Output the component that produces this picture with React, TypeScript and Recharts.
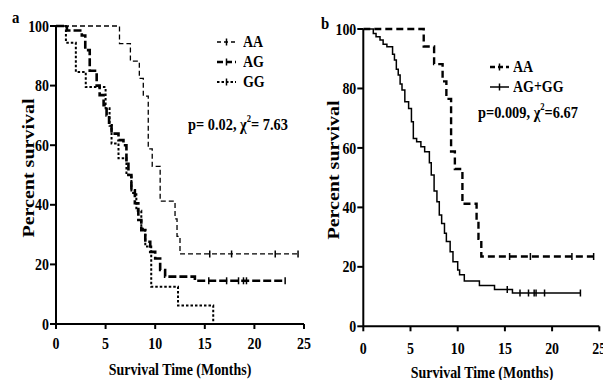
import { LineChart, Line, XAxis, YAxis } from 'recharts';

const FONT = '"Liberation Serif", "Times New Roman", serif';
const SQUEEZE = 0.87; // the original figure is a little narrowed horizontally

// axis ticks
const xTicks = [0, 5, 10, 15, 20, 25];
const yTicks = [0, 20, 40, 60, 80, 100];

// AA genotype (same group in both panels)
const aaTime = [0, 6.4, 7.5, 8.4, 8.8, 9.3, 9.7, 10.5, 12.0, 12.2, 12.5];
const aaSurv = [100, 94.1, 88.2, 82.4, 76.5, 58.8, 52.9, 41.2, 35.3, 29.4, 23.5];
const aaCensor = [15.5, 17.7, 22.1, 24.4];

// AG genotype
const agTime = [0, 1.1, 2.6, 2.95, 3.4, 4.1, 4.4, 4.8, 5.1, 5.35, 5.6, 6.3, 6.8, 7.1, 7.3, 7.6, 7.95, 8.3, 8.6, 9.0, 9.5, 10.0, 10.5, 11.0, 14.0];
const agSurv = [100, 98.5, 96.8, 91.9, 85, 80, 76.8, 73.4, 70, 66.7, 63.9, 61.7, 60, 54.4, 50, 44.9, 40.5, 34.9, 31.5, 27.6, 24.2, 22, 18.1, 15.9, 14.5];
const agCensor = [15.4, 17.2, 18.4, 18.9, 19.2, 23.1];

// GG genotype
const ggTime = [0, 1.0, 2.0, 3.0, 5.0, 5.4, 5.6, 6.3, 7.1, 7.6, 8.1, 8.6, 9.0, 9.6, 12.3, 15.85];
const ggSurv = [100, 94.4, 84.6, 79.5, 72.4, 66.5, 60.6, 55.6, 50, 44, 38, 32, 26, 12.5, 6.2, 0];
const ggCensor: number[] = [];

// AG + GG pooled (panel b)
const poolTime = [0, 1.06, 1.35, 1.77, 2.1, 2.5, 3.1, 3.3, 3.5, 3.7, 3.9, 4.1, 4.4, 4.8, 5.1, 5.3, 5.65, 6.1, 6.5, 7.0, 7.2, 7.5, 7.8, 8.05, 8.3, 8.6, 8.8, 9.2, 9.5, 10.0, 10.2, 10.7, 12.3, 13.9, 15.8];
const poolSurv = [100, 98.5, 97.4, 96.3, 94.9, 94.0, 91.5, 89.6, 86.5, 84.5, 81.5, 79.5, 75.5, 73.3, 68.8, 63.2, 62.1, 60.4, 58.7, 55, 50.9, 45.5, 41.9, 37.4, 34.6, 31.3, 28.5, 25.1, 21.7, 18.9, 17.3, 15.2, 13.7, 12.4, 11.2];
const poolCensor = [15.25, 16.6, 17.5, 18.1, 18.3, 19.2, 23.0];

type Pt = { t: number; s: number; c?: boolean };

// merge event steps with censor marks (censored points sit on the current level)
function buildCurve(times: number[], surv: number[], censor: number[]): Pt[] {
  const pts: Pt[] = times.map((t, i) => ({ t, s: surv[i] }));
  censor.forEach((t) => {
    let s = surv[0];
    times.forEach((tt, i) => {
      if (tt <= t) s = surv[i];
    });
    pts.push({ t, s, c: true });
  });
  return pts.sort((a, b) => a.t - b.t);
}

const aaData = buildCurve(aaTime, aaSurv, aaCensor);
const agData = buildCurve(agTime, agSurv, agCensor);
const ggData = buildCurve(ggTime, ggSurv, ggCensor);
const poolData = buildCurve(poolTime, poolSurv, poolCensor);

const censorDot = (props: any) => {
  const { cx, cy, payload, index } = props;
  if (!payload || !payload.c) return <g key={`n-${index}`} />;
  return (
    <line key={`c-${index}`} x1={cx} x2={cx} y1={cy - 3.5} y2={cy + 3.5} stroke="#000" strokeWidth={1.5} />
  );
};

const XTick = (props: any) => {
  const { x, y, payload } = props;
  return (
    <text
      transform={`translate(${x},${y}) scale(${SQUEEZE},1)`}
      textAnchor="middle"
      dy="0.71em"
      fontFamily={FONT}
      fontWeight="bold"
      fontSize={16}
      fill="#000"
    >
      {payload.value}
    </text>
  );
};

const YTick = (props: any) => {
  const { x, y, payload } = props;
  return (
    <text
      transform={`translate(${x},${y}) scale(${SQUEEZE},1)`}
      textAnchor="end"
      dy="0.35em"
      fontFamily={FONT}
      fontWeight="bold"
      fontSize={16}
      fill="#000"
    >
      {payload.value}
    </text>
  );
};

interface Series {
  key: string;
  data: Pt[];
  width: number;
  dash?: string;
}

interface PanelProps {
  left: number;
  width: number;
  margin: { top: number; right: number; bottom: number; left: number };
  xTickMargin: number;
  series: Series[];
}

function KmPanel({ left, width, margin, xTickMargin, series }: PanelProps) {
  return (
    <div style={{ position: 'absolute', left, top: 0 }}>
      <LineChart width={width} height={380} margin={margin}>
        <XAxis
          type="number"
          dataKey="t"
          domain={[0, 25]}
          ticks={xTicks}
          interval={0}
          height={30}
          tickSize={5}
          tickMargin={xTickMargin}
          axisLine={{ stroke: '#000', strokeWidth: 2 }}
          tickLine={{ stroke: '#000', strokeWidth: 2 }}
          tick={<XTick />}
          allowDataOverflow
        />
        <YAxis
          type="number"
          dataKey="s"
          domain={[0, 100]}
          ticks={yTicks}
          interval={0}
          width={40}
          tickSize={6}
          tickMargin={1}
          axisLine={{ stroke: '#000', strokeWidth: 2 }}
          tickLine={{ stroke: '#000', strokeWidth: 2 }}
          tick={<YTick />}
        />
        {series.map((s) => (
          <Line
            key={s.key}
            data={s.data}
            dataKey="s"
            type="stepAfter"
            stroke="#000"
            strokeWidth={s.width}
            strokeDasharray={s.dash}
            dot={censorDot}
            activeDot={false}
            isAnimationActive={false}
          />
        ))}
      </LineChart>
    </div>
  );
}

// text placed by left edge and vertical centre
function Txt({ x, cy, size, children }: { x: number; cy: number; size: number; children: any }) {
  return (
    <div
      style={{
        position: 'absolute',
        left: x,
        top: cy - size * 0.5,
        fontFamily: FONT,
        fontWeight: 'bold',
        fontSize: size,
        lineHeight: 1,
        whiteSpace: 'nowrap',
        transform: `scaleX(${SQUEEZE})`,
        transformOrigin: 'left center',
        color: '#000',
      }}
    >
      {children}
    </div>
  );
}

function CenterTxt({ cx, cy, size, rotate, children }: { cx: number; cy: number; size: number; rotate?: boolean; children: any }) {
  return (
    <div
      style={{
        position: 'absolute',
        left: cx,
        top: cy,
        fontFamily: FONT,
        fontWeight: 'bold',
        fontSize: size,
        lineHeight: 1,
        whiteSpace: 'nowrap',
        transform: rotate
          ? `translate(-50%, -50%) scale(${SQUEEZE},1) rotate(-90deg)`
          : `translate(-50%, -50%) scaleX(${SQUEEZE})`,
        color: '#000',
      }}
    >
      {children}
    </div>
  );
}

function LegendMark({ x, cy, width, dash }: { x: number; cy: number; width: number; dash?: string }) {
  return (
    <svg style={{ position: 'absolute', left: x, top: cy - 6 }} width={19} height={12}>
      <line x1={0} x2={19} y1={6} y2={6} stroke="#000" strokeWidth={width} strokeDasharray={dash} />
      <line x1={9.5} x2={9.5} y1={2.5} y2={9.5} stroke="#000" strokeWidth={1.5} />
    </svg>
  );
}

const Chi = ({ p, chi }: { p: string; chi: string }) => (
  <span>
    {p}, χ<span style={{ fontSize: '0.6em', position: 'relative', top: '-0.75em' }}>2</span>
    {chi}
  </span>
);

export default function App() {
  return (
    <div
      style={{
        position: 'absolute',
        left: 0,
        top: 0,
        width: 603,
        height: 380,
        overflow: 'hidden',
        background: '#fff',
      }}
    >
      <KmPanel
        left={0}
        width={320}
        margin={{ top: 26, right: 16, bottom: 26, left: 16 }}
        xTickMargin={9}
        series={[
          { key: 'aa', data: aaData, width: 1.3, dash: '5 3' },
          { key: 'ag', data: agData, width: 2.6, dash: '8 3' },
          { key: 'gg', data: ggData, width: 2, dash: '2.5 2' },
        ]}
      />
      <KmPanel
        left={300}
        width={310}
        margin={{ top: 29, right: 10.7, bottom: 23.7, left: 23.3 }}
        xTickMargin={11}
        series={[
          { key: 'aa', data: aaData, width: 2.4, dash: '7 4' },
          { key: 'pool', data: poolData, width: 1.5 },
        ]}
      />

      {/* panel a */}
      <Txt x={12} cy={17} size={17}>a</Txt>
      <CenterTxt cx={28} cy={168} size={20} rotate>Percent survival</CenterTxt>
      <CenterTxt cx={180} cy={370} size={16}>Survival Time (Months)</CenterTxt>
      <LegendMark x={217} cy={42} width={1.3} dash="4 3" />
      <Txt x={243} cy={42} size={16}>AA</Txt>
      <LegendMark x={217} cy={62} width={2.6} dash="6 3" />
      <Txt x={243} cy={62} size={16}>AG</Txt>
      <LegendMark x={217} cy={82} width={2} dash="2.5 2" />
      <Txt x={243} cy={82} size={16}>GG</Txt>
      <Txt x={188} cy={125} size={16.5}>
        <Chi p="p= 0.02" chi="= 7.63" />
      </Txt>

      {/* panel b */}
      <Txt x={321} cy={23} size={17}>b</Txt>
      <CenterTxt cx={333} cy={170} size={20} rotate>Percent survival</CenterTxt>
      <CenterTxt cx={482} cy={373} size={16}>Survival Time (Months)</CenterTxt>
      <LegendMark x={490} cy={67} width={2.4} dash="5 3" />
      <Txt x={513} cy={67} size={16}>AA</Txt>
      <LegendMark x={490} cy={87} width={1.5} />
      <Txt x={513} cy={87} size={16}>AG+GG</Txt>
      <Txt x={478} cy={113} size={16.5}>
        <Chi p="p=0.009" chi="=6.67" />
      </Txt>
    </div>
  );
}
